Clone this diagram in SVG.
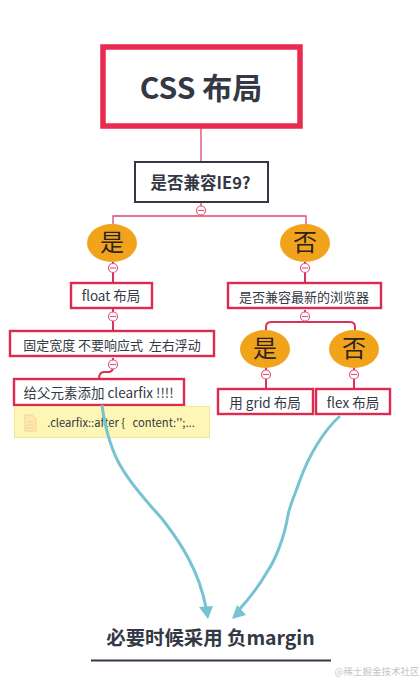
<svg xmlns="http://www.w3.org/2000/svg" width="419" height="680" viewBox="0 0 419 680">
<style>
text{font-family:"Noto Sans CJK SC","Noto Sans",sans-serif;fill:#333844;text-anchor:middle}
.box{fill:#fff;stroke:#e0294f;stroke-width:2.4}
.oval{fill:#f2a31c}
.ov{font-size:24px;fill:#2a2320}
.t{font-size:13.500px}
.c{font-size:13px}
.ln{fill:none;stroke:#d9335a;stroke-width:2}
.thin{fill:none;stroke:#d9476c;stroke-width:1.3}
.tog{fill:#fff;stroke:#e2557c;stroke-width:1.2}
.dash{stroke:#e2557c;stroke-width:1.1}
.cur{fill:none;stroke:#76c3d2;stroke-width:3}
.arr{fill:#76c3d2}
</style>
<rect width="419" height="680" fill="#fff"/>
<g id="connectors">
<path class="thin" d="M201 128V162"/>
<path class="thin" d="M201 203V216M113 226V216H306V226"/>
<path class="ln" d="M113 262V283M113 308V333"/>
<path class="ln" d="M113 358V367Q113 372 108 372H104Q99 372 99 379"/>
<path class="ln" d="M305 262V283"/>
<path class="ln" d="M305 310V320M266 330V327Q266 322 271 322H350Q355 322 355 327V330"/>
<path class="ln" d="M266 366V389M354 366V389"/>
</g>
<g id="n-title"><rect x="103" y="47" width="197" height="79" fill="#fff" stroke="#ea2a4e" stroke-width="5.500"/><text x="201" y="99" font-size="30" font-weight="700">CSS 布局</text></g>
<g id="n-ie9"><rect x="135" y="162" width="133" height="40" fill="#fff" stroke="#333844" stroke-width="2"/><text x="200.500" y="189" font-size="16.500" font-weight="700">是否兼容IE9?</text></g>
<g id="t1"><circle class="tog" cx="201" cy="210.500" r="4.500"/><path class="dash" d="M198 210.500H204"/></g>
<g id="n-yes1"><ellipse class="oval" cx="112" cy="243" rx="25" ry="19"/><text class="ov" x="112" y="251">是</text></g>
<g id="t2"><circle class="tog" cx="113" cy="268" r="4.500"/><path class="dash" d="M110 268H116"/></g>
<g id="n-no1"><ellipse class="oval" cx="305" cy="243" rx="25" ry="19"/><text class="ov" x="305" y="251">否</text></g>
<g id="t3"><circle class="tog" cx="305" cy="268" r="4.500"/><path class="dash" d="M302 268H308"/></g>
<g id="n-float"><rect class="box" x="71" y="283" width="81" height="25"/><text class="t" x="111" y="301">float 布局</text></g>
<g id="t4"><circle class="tog" cx="113" cy="316.500" r="4.500"/><path class="dash" d="M110 316.500H116"/></g>
<g id="n-fixed"><rect class="box" x="10" y="331" width="204" height="25"/><text class="c" x="112" y="350">固定宽度 不要响应式 &#160;左右浮动</text></g>
<g id="t5"><circle class="tog" cx="113" cy="364.500" r="4.500"/><path class="dash" d="M110 364.500H116"/></g>
<g id="n-clear"><rect class="box" x="14" y="379" width="170" height="26"/><text class="t" x="98.500" y="398">给父元素添加 clearfix !!!!</text></g>
<g id="n-note"><rect x="14.500" y="406.500" width="195" height="31" fill="#fdf6b5" stroke="#f5e59a"/>
<path d="M25 415h7l4 4v12H25z" fill="#fdeab0" stroke="#f8cf90"/><path d="M27 422h7M27 425h7M27 428h7" stroke="#f8cf90"/>
<text x="121" y="427" font-size="11.200">.clearfix::after { &#160; content:'';...</text></g>
<g id="n-browser"><rect class="box" x="228" y="283" width="153" height="25"/><text class="c" x="304" y="302">是否兼容最新的浏览器</text></g>
<g id="t6"><circle class="tog" cx="305" cy="316.500" r="4.500"/><path class="dash" d="M302 316.500H308"/></g>
<g id="n-yes2"><ellipse class="oval" cx="265" cy="349" rx="25" ry="19"/><text class="ov" x="265" y="357">是</text></g>
<g id="t7"><circle class="tog" cx="266" cy="374.500" r="4.500"/><path class="dash" d="M263 374.500H269"/></g>
<g id="n-no2"><ellipse class="oval" cx="354" cy="349" rx="25" ry="19"/><text class="ov" x="354" y="357">否</text></g>
<g id="t8"><circle class="tog" cx="354" cy="374.500" r="4.500"/><path class="dash" d="M351 374.500H357"/></g>
<g id="n-grid"><rect class="box" x="218" y="389" width="95" height="25"/><text class="t" x="265" y="408">用 grid 布局</text></g>
<g id="n-flex"><rect class="box" x="316" y="389" width="74" height="25"/><text class="t" x="353" y="408">flex 布局</text></g>
<g id="n-margin"><text x="210.500" y="645" font-size="19.400" font-weight="700">必要时候采用 负margin</text><path d="M91 660.500H331" stroke="#333844" stroke-width="2"/></g>
<text x="377" y="675" font-size="9.500" style="fill:#c4c4c4">@稀土掘金技术社区</text>
<g id="curved-connectors">
<path class="cur" d="M102 405C105 430 113 455 123 470C133 487 150 505 163 520C180 542 199 570 206 608"/>
<path class="cur" d="M340 416C322 432 308 458 300 480C294 497 290 505 288 515C284 540 274 562 267 572C258 588 248 600 238 611"/>
<polygon class="arr" points="199,607 213,606 208,619"/>
<polygon class="arr" points="237,605 246,615 232,619"/>
</g>
</svg>
